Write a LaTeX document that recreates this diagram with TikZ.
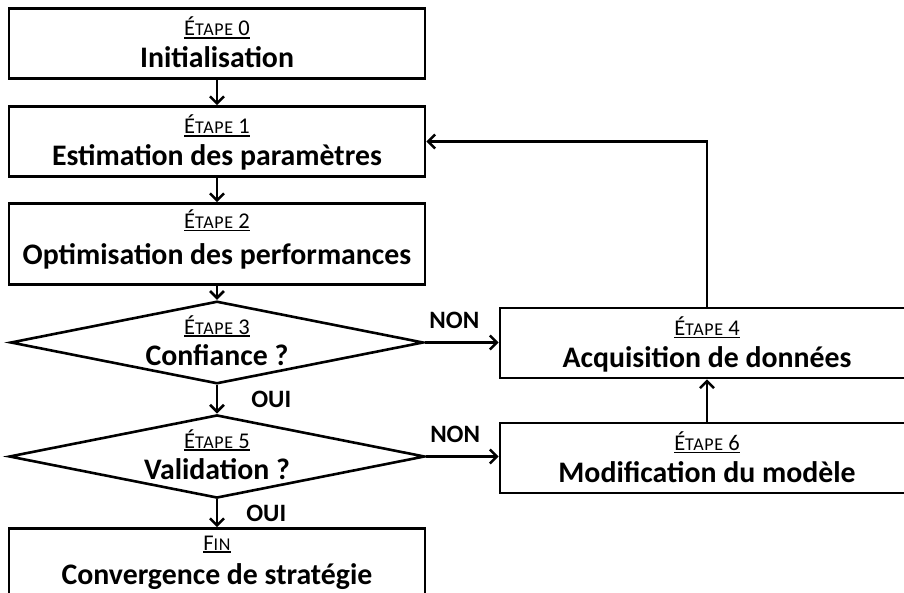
\documentclass[tikz,border=0pt]{standalone}
\usepackage{fontspec}
\setmainfont{Carlito}
\usetikzlibrary{shapes.geometric,arrows.meta,positioning}
\tikzstyle{stepbox} = [draw,line width=2.6pt,rectangle,minimum width=416pt,minimum height=70pt,inner sep=0,align=center,font=\fontsize{29.8}{31.5}\selectfont\bfseries,text height=52pt,text depth=4pt]
\tikzstyle{test} = [draw,line width=2.6pt,diamond,aspect=5,minimum width=412pt,minimum height=81pt,inner sep=0,align=center,font=\fontsize{29.8}{31.5}\selectfont\bfseries,text height=50pt,text depth=4pt]
\tikzstyle{flow} = [-{Straight Barb[length=7pt,width=14pt,line width=2.6pt]},line width=2.6pt]
\tikzstyle{answer} = [font=\fontsize{25}{25}\selectfont\bfseries,inner sep=0]
\newcommand\steplbl[3]{\setbox0\hbox{\mdseries\fontsize{22.5}{22.5}\selectfont #1{\fontsize{18}{18}\selectfont\addfontfeature{LetterSpace=4}#2}#3}\rlap{\rule[-2.6pt]{\wd0}{1.3pt}}\box0}

\begin{document}
\begin{tikzpicture}[x=1pt,y=1pt]
  \useasboundingbox (0,0) rectangle (904,-593);
  \clip (0,0) rectangle (904,-593);
  % main chain
  \node[stepbox] (init) at (217,-43.5) {\steplbl{É}{TAPE}{ 0}\\Initialisation};
  \node[stepbox] (estim) at (217,-141.5) {\steplbl{É}{TAPE}{ 1}\\Estimation des paramètres};
  \node[stepbox,minimum height=81pt,text height=46pt] (optim) at (217,-244) {\steplbl{É}{TAPE}{ 2}\\[5pt]Optimisation des performances};
  \node[test] (conf) at (217,-342.5) {\steplbl{É}{TAPE}{ 3}\\Confiance ?};
  \node[test,minimum height=83pt] (valid) at (217,-456.5) {\steplbl{É}{TAPE}{ 5}\\Validation ?};
  \node[stepbox,text height=46pt] (fin) at (217,-563.5) {\steplbl{F}{IN}{}\\[3pt]Convergence de stratégie};
  % side branch
  \node[stepbox,minimum width=414pt] (acqui) at (707,-343) {\steplbl{É}{TAPE}{ 4}\\Acquisition de données};
  \node[stepbox,minimum width=414pt] (modif) at (707,-458) {\steplbl{É}{TAPE}{ 6}\\Modification du modèle};
  % connectors
  \draw[flow] (init) -- (estim);
  \draw[flow] (estim) -- (optim);
  \draw[flow] (optim) -- (conf);
  \draw[flow] (conf) -- node[answer,anchor=west,xshift=33pt] (oui1) {OUI} (valid);
  \draw[flow] (valid) -- node[answer,anchor=west,xshift=28pt] (oui2) {OUI} (fin);
  \draw[flow] (conf.east) -- node[answer,anchor=south,pos=0.4,yshift=13pt] (non1) {NON} (conf.east -| acqui.west);
  \draw[flow] (valid.east) -- node[answer,anchor=south,pos=0.4,yshift=13pt] (non2) {NON} (valid.east -| modif.west);
  \draw[flow] (modif) -- (acqui);
  \draw[flow] (acqui.north) |- (estim.east);
\end{tikzpicture}
\end{document}
